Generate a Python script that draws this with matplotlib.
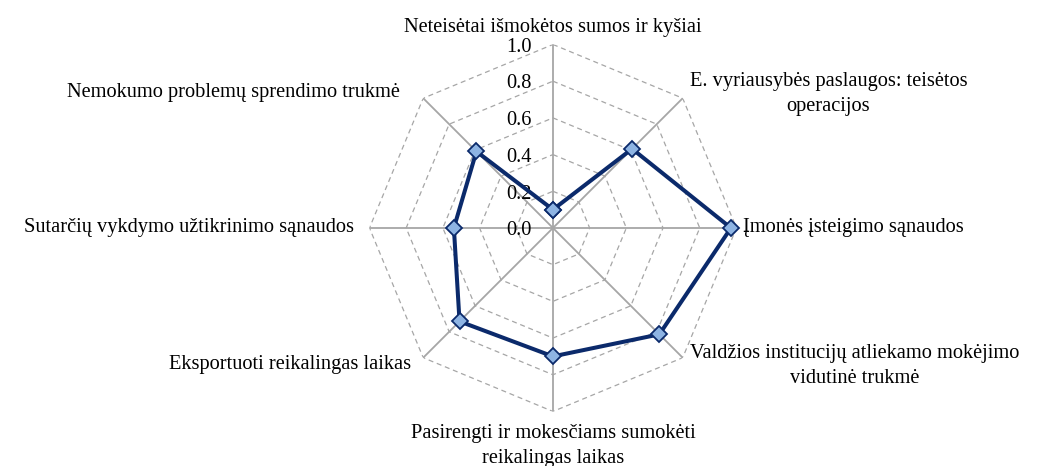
import numpy as np
import matplotlib
matplotlib.use('Agg')
import matplotlib.pyplot as plt

# --- DATA ---
categories = [
    "Neteisėtai išmokėtos sumos ir kyšiai",
    "E. vyriausybės paslaugos: teisėtos\noperacijos",
    "Įmonės įsteigimo sąnaudos",
    "Valdžios institucijų atliekamo mokėjimo\nvidutinė trukmė",
    "Pasirengti ir mokesčiams sumokėti\nreikalingas laikas",
    "Eksportuoti reikalingas laikas",
    "Sutarčių vykdymo užtikrinimo sąnaudos",
    "Nemokumo problemų sprendimo trukmė",
]
values = [0.10, 0.61, 0.97, 0.82, 0.70, 0.72, 0.54, 0.59]
levels = [0.2, 0.4, 0.6, 0.8, 1.0]
level_labels = ["0.0", "0.2", "0.4", "0.6", "0.8", "1.0"]

# --- STYLE ---
plt.rcParams['font.family'] = ['Liberation Serif', 'DejaVu Serif']
FS = 14.7
LINE = '#0b2a6b'
FILL = '#8eb4e3'
GRID = '#a6a6a6'

n = len(categories)
theta = np.arange(n) * 2 * np.pi / n
theta_closed = np.append(theta, theta[0])

fig = plt.figure(figsize=(10.39, 4.66), dpi=100)
ax = fig.add_axes([0.3556, 0.117, 0.3532, 0.7876], projection='polar')
ax.set_theta_zero_location('N')
ax.set_theta_direction(-1)
ax.set_ylim(0, 1.0)
ax.grid(False)
ax.spines['polar'].set_visible(False)
ax.set_xticks([])
ax.set_yticks([])
ax.patch.set_alpha(0)

# octagon rings (dashed)
for lv in levels:
    ax.plot(theta_closed, [lv] * (n + 1), color=GRID, lw=0.9, ls=(0, (4, 3)), zorder=1)
# spokes
for t in theta:
    ax.plot([t, t], [0, 1.0], color=GRID, lw=1.3, zorder=2)

# data series
vals_closed = values + values[:1]
ax.plot(theta_closed, vals_closed, color=LINE, lw=2.9, zorder=4,
        marker='D', ms=8, mfc=FILL, mec=LINE, mew=1.3, clip_on=False)

# radial labels
for i, lab in enumerate(level_labels):
    ax.annotate(lab, xy=(0, i * 0.2), xytext=(-15, -2), textcoords='offset points',
                ha='right', va='center', fontsize=FS, zorder=3)

# category labels
placements = [
    (1.04, 'center', 'bottom', (0, 0)),
    (1.0, 'left', 'center', (5, 3)),
    (1.0, 'left', 'center', (5, 0)),
    (1.0, 'left', 'center', (5, -6)),
    (1.0, 'center', 'top', (0, -9)),
    (1.0, 'right', 'center', (-9, -5)),
    (1.0, 'right', 'center', (-11, 0)),
    (1.0, 'right', 'center', (-17, 4)),
]
for t, lab, (r, ha, va, off) in zip(theta, categories, placements):
    ax.annotate(lab, xy=(t, r), xytext=off, textcoords='offset points',
                ha=ha, va=va, fontsize=FS, multialignment='center',
                linespacing=1.4, annotation_clip=False)

fig.savefig('out.png', dpi=100)
